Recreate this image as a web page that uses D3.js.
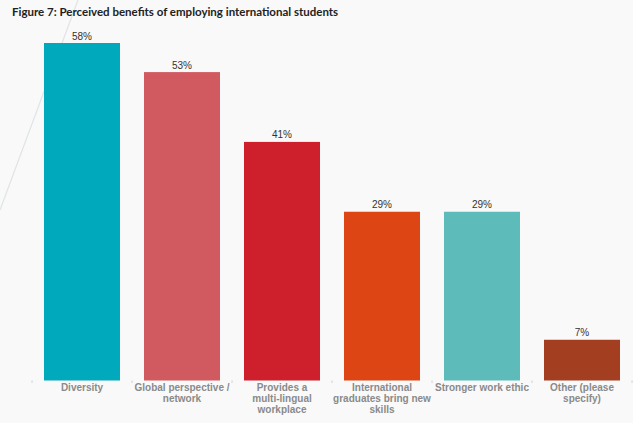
<!DOCTYPE html>
<html>
<head>
<meta charset="utf-8">
<script src="https://cdn.jsdelivr.net/npm/d3@7"></script>
<style>
  html, body { margin: 0; padding: 0; background: #f9f9f9; }
  svg { display: block; }
</style>
</head>
<body>
<div class="chart_container"></div>
<script>
// Figure 7 data
const categories = [
  "Diversity",
  "Global perspective / network",
  "Provides a multi-lingual workplace",
  "International graduates bring new skills",
  "Stronger work ethic",
  "Other (please specify)"
];
const values = [58, 53, 41, 29, 29, 7];
const colors = ["#00a9bb", "#d15a61", "#cd1f2c", "#de4515", "#5dbbb9", "#a43e21"];

const width = 633;
const height = 423;
const baseline = 380.5;

function wrap(text, w) {
  text.each(function () {
    const t = d3.select(this);
    const words = t.text().split(/\s+/).reverse();
    const y = t.attr("y");
    const dy = parseFloat(t.attr("dy"));
    let line = [];
    let lineNumber = 0;
    let tspan = t.text(null).append("tspan").attr("x", 0).attr("y", y).attr("dy", dy + "em");
    let word;
    while ((word = words.pop())) {
      line.push(word);
      tspan.text(line.join(" "));
      if (tspan.node().getComputedTextLength() > w && line.length > 1) {
        line.pop();
        tspan.text(line.join(" "));
        line = [word];
        tspan = t.append("tspan").attr("x", 0).attr("y", y)
          .attr("dy", ++lineNumber * 1.13 + dy + "em").text(word);
      }
    }
  });
}

function drawChart() {
  const container = document.querySelector("div.chart_container");
  const svg = d3.select(container).append("svg")
    .attr("width", width)
    .attr("height", height);

  svg.append("rect")
    .attr("width", width).attr("height", height)
    .attr("fill", "#f9f9f9");

  // faint diagonal stroke behind the first bar
  svg.append("line")
    .attr("x1", 78).attr("y1", 0)
    .attr("x2", 0).attr("y2", 210)
    .attr("stroke", "#e0e4e4")
    .attr("stroke-width", 1.2);

  const xScale = d3.scaleBand()
    .domain(categories)
    .range([32, 632])
    .paddingInner(0.24)
    .paddingOuter(0.12);

  const yScale = d3.scaleLinear()
    .domain([0, 58])
    .range([baseline, 43]);

  svg.append("text")
    .attr("x", 12)
    .attr("y", 16)
    .attr("font-family", "Lato, sans-serif")
    .attr("font-weight", 700)
    .attr("font-size", 11.5)
    .attr("fill", "#222")
    .text("Figure 7: Perceived benefits of employing international students");

  svg.selectAll("rect.bar")
    .data(values).enter().append("rect")
    .attr("class", "bar")
    .attr("x", (d, i) => xScale(categories[i]))
    .attr("y", d => yScale(d))
    .attr("width", xScale.bandwidth())
    .attr("height", d => baseline - yScale(d))
    .attr("fill", (d, i) => colors[i]);

  svg.selectAll("text.value")
    .data(values).enter().append("text")
    .attr("class", "value")
    .attr("x", (d, i) => xScale(categories[i]) + xScale.bandwidth() / 2)
    .attr("y", d => yScale(d) - 3.5)
    .attr("text-anchor", "middle")
    .attr("font-family", "Liberation Sans, Arial, sans-serif")
    .attr("font-size", 10)
    .attr("fill", "#333")
    .text(d => d + "%");

  // small ticks between categories
  const step = xScale.step();
  const tickXs = d3.range(categories.length + 1).map(i => xScale.range()[0] + i * step);
  svg.selectAll("line.tick")
    .data(tickXs).enter().append("line")
    .attr("class", "tick")
    .attr("x1", d => d).attr("x2", d => d)
    .attr("y1", baseline).attr("y2", baseline + 2.5)
    .attr("stroke", "#d0d0d0")
    .attr("stroke-width", 1);

  const axis = svg.append("g")
    .attr("transform", `translate(0,${baseline})`)
    .call(d3.axisBottom(xScale).tickSize(0).tickPadding(0));
  axis.select(".domain").remove();
  axis.selectAll("text")
    .attr("font-family", "Liberation Sans, Arial, sans-serif")
    .attr("font-size", 10)
    .attr("font-weight", 700)
    .attr("fill", "#8a8a8a")
    .attr("y", 10.2)
    .attr("dy", "0")
    .call(wrap, step);
}

drawChart();
</script>
</body>
</html>
